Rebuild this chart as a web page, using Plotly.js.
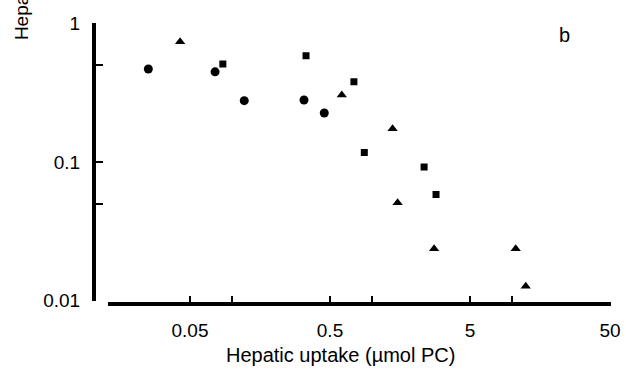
<!DOCTYPE html>
<html>
<head>
<meta charset="utf-8">
<script src="https://cdn.plot.ly/plotly-3.0.1.min.js"></script>
<style>html,body{margin:0;padding:0;background:#fff;}#chart{width:626px;height:370px;}</style>
</head>
<body>
<div id="chart"></div>
<script>
// Data (log-log scatter)
const circleX = [0.0252, 0.0755, 0.122, 0.326, 0.455];
const circleY = [0.466, 0.445, 0.276, 0.279, 0.225];
const triangleX = [0.0425, 0.607, 1.40, 1.52, 2.77, 10.6, 12.5];
const triangleY = [0.734, 0.303, 0.173, 0.0507, 0.0237, 0.0237, 0.0127];
const squareX = [0.0858, 0.337, 0.741, 0.879, 2.35, 2.86];
const squareY = [0.506, 0.580, 0.378, 0.117, 0.0918, 0.0582];

const xTickVals = [0.05, 0.1, 0.5, 1, 5, 10, 50];
const xTickText = ['0.05', '', '0.5', '', '5', '', '50'];
const yTickVals = [0.01, 0.05, 0.1, 0.5, 1];
const yTickText = ['0.01', '', '0.1', '', '1'];

const xTitle = 'Hepatic uptake (\u00b5mol PC)';
const yTitle = 'Hepatic extraction';
const panelLabel = 'b';

const FONT = 'Liberation Sans, Arial, Helvetica, sans-serif';

const traces = [
  {x: circleX, y: circleY, type: 'scatter', mode: 'markers',
   marker: {symbol: 'circle', size: 9, color: '#000'}},
  {x: triangleX, y: triangleY, type: 'scatter', mode: 'markers',
   marker: {symbol: 'triangle-up', size: 9, color: '#000'}},
  {x: squareX, y: squareY, type: 'scatter', mode: 'markers',
   marker: {symbol: 'square', size: 7, color: '#000'}}
];

const layout = {
  width: 626, height: 370,
  margin: {l: 94, r: 15, t: 23, b: 66, pad: 0},
  paper_bgcolor: '#fff', plot_bgcolor: '#fff',
  showlegend: false,
  font: {family: FONT, size: 19, color: '#000'},
  xaxis: {
    type: 'log', range: [-1.8867, 1.7061], domain: [0.0271, 1],
    anchor: 'free', position: 0,
    showline: true, linewidth: 4, linecolor: '#000',
    showgrid: false, zeroline: false,
    ticks: 'inside', ticklen: 6, tickwidth: 2, tickcolor: '#000',
    tickvals: xTickVals, ticktext: xTickText,
    tickfont: {family: FONT, size: 19, color: '#000'},
    ticklabelstandoff: 8
  },
  yaxis: {
    type: 'log', range: [-2, 0], domain: [0.0117, 1],
    anchor: 'free', position: 0,
    showline: true, linewidth: 4, linecolor: '#000',
    showgrid: false, zeroline: false,
    ticks: 'inside', ticklen: 7, tickwidth: 2, tickcolor: '#000',
    tickvals: yTickVals, ticktext: yTickText,
    tickfont: {family: FONT, size: 19, color: '#000'},
    ticklabelstandoff: 8
  },
  annotations: [
    {text: panelLabel, xref: 'paper', yref: 'paper', x: 0.911, y: 0.959,
     xanchor: 'center', yanchor: 'middle', showarrow: false,
     font: {family: FONT, size: 20, color: '#000'}},
    {text: xTitle, xref: 'paper', yref: 'paper', x: 0.476, y: -0.1815,
     xanchor: 'center', yanchor: 'middle', showarrow: false,
     font: {family: FONT, size: 20, color: '#000'}},
    {text: yTitle, xref: 'paper', yref: 'paper', x: -0.1412, y: 0.932,
     xanchor: 'center', yanchor: 'bottom', textangle: -90, showarrow: false,
     font: {family: FONT, size: 19, color: '#000'}}
  ]
};

Plotly.newPlot('chart', traces, layout, {displayModeBar: false, staticPlot: true});
</script>
</body>
</html>
